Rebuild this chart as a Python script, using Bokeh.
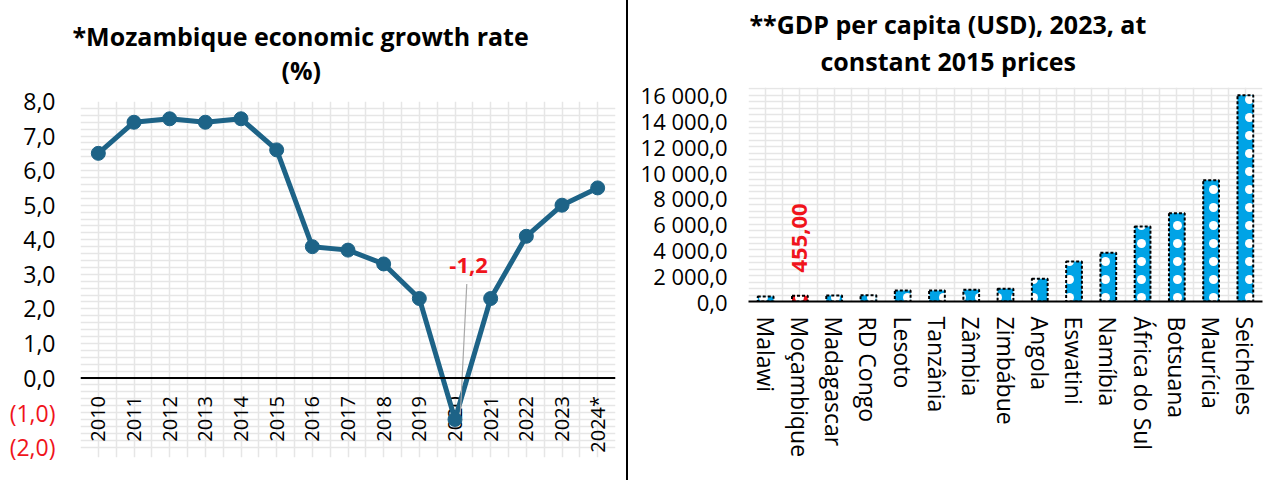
import numpy as np
from math import pi
from bokeh.plotting import figure
from bokeh.models import (FactorRange, Range1d, FixedTicker, Title, Spacer, ColumnDataSource,
                          LinearAxis, Span)
from bokeh.layouts import row
from bokeh.embed import file_html
from bokeh.resources import INLINE
from bokeh.core.properties import value

# ---------------- data ----------------
years = ["2010", "2011", "2012", "2013", "2014", "2015", "2016", "2017",
         "2018", "2019", "2020", "2021", "2022", "2023", "2024*"]
growth = [6.5, 7.4, 7.5, 7.4, 7.5, 6.6, 3.8, 3.7, 3.3, 2.3, -1.2, 2.3, 4.1, 5.0, 5.5]
growth_ticks = [0, 1, 2, 3, 4, 5, 6, 7, 8]
growth_neg_ticks = [-1, -2]
growth_highlight = "2020"

countries = ["Malawi", "Moçambique", "Madagascar", "RD Congo", "Lesoto", "Tanzânia",
             "Zâmbia", "Zimbábue", "Angola", "Eswatini", "Namíbia", "África do Sul",
             "Botsuana", "Maurícia", "Seicheles"]
gdp = [390, 455, 470, 490, 850, 860, 910, 985, 1760, 3100, 3780, 5820, 6850, 9400, 16000]
gdp_ticks = [0, 2000, 4000, 6000, 8000, 10000, 12000, 14000, 16000]
gdp_highlight = "Moçambique"

FONT = "Open Sans"
GRID = "#e6e6e6"
LINE_COL = "#1d6387"
RED = "#f0141c"
BAR_COL = "#00a3e6"


def pt(v, d=1):
    return f"{v:,.{d}f}".replace(",", " ").replace(".", ",")


def title(text, offset, standoff):
    return Title(text=text, align="left", offset=offset, text_font=FONT, text_color="black",
                 text_font_size="25px", text_font_style="bold", standoff=standoff)


def plain_axis(ax, size, standoff, color="black"):
    ax.axis_line_color = None
    ax.major_tick_line_color = None
    ax.minor_tick_line_color = None
    ax.major_tick_out = 0
    ax.major_tick_in = 0
    ax.minor_tick_out = 0
    ax.major_label_standoff = standoff
    ax.major_label_text_font = FONT
    ax.major_label_text_font_size = size
    ax.major_label_text_color = color


# ---------------- left chart ----------------
p1 = figure(width=626, height=480, x_range=FactorRange(*years), y_range=Range1d(-2.3, 8),
            output_backend="svg", toolbar_location=None, title=None,
            min_border_left=80, min_border_right=11, min_border_top=101, min_border_bottom=23)
p1.outline_line_color = None
p1.frame_align = False

p1.add_layout(title("(%)", 201, 29), "above")
p1.add_layout(title("*Mozambique economic growth rate", -8, -33), "above")

p1.xgrid.ticker = FixedTicker(ticks=[i * 0.5 for i in range(2 * len(years) + 1)])
p1.ygrid.ticker = FixedTicker(ticks=[round(-2 + i * 0.2, 2) for i in range(51)])
for g in (p1.xgrid, p1.ygrid):
    g.grid_line_color = GRID
    g.grid_line_width = 1.5

p1.yaxis.ticker = FixedTicker(ticks=growth_ticks)
p1.yaxis.major_label_overrides = {t: pt(t) for t in growth_ticks}
plain_axis(p1.yaxis[0], "23px", 25)

neg_axis = LinearAxis(ticker=FixedTicker(ticks=growth_neg_ticks),
                      major_label_overrides={t: f"({pt(abs(t))})" for t in growth_neg_ticks})
plain_axis(neg_axis, "23px", -35, RED)
p1.add_layout(neg_axis, "left")

p1.xaxis.visible = False
p1.add_layout(Span(location=0, dimension="width", line_color="black", line_width=2))

src1 = ColumnDataSource(dict(year=years, g=growth))
p1.text(x="year", y=-0.52, text="year", source=src1, angle=pi / 2,
        text_font=value(FONT), text_font_size="20px", text_color="black",
        text_align="right", text_baseline="middle")
p1.line(x="year", y="g", source=src1, line_color=LINE_COL, line_width=5)
p1.scatter(x="year", y="g", source=src1, size=14, fill_color=LINE_COL, line_color=LINE_COL)

hi = years.index(growth_highlight)
p1.segment(x0=[hi + 0.83], y0=[2.72], x1=[hi + 0.65], y1=[growth[hi] + 0.15],
           line_color="#a8a8a8", line_width=1.2)
p1.text(x=[hi + 0.88], y=[3.25], text=[pt(growth[hi])], text_color=RED,
        text_font=value(FONT), text_font_size="22px", text_font_style="bold",
        text_align="center", text_baseline="middle")

# ---------------- separator ----------------
sep = Spacer(width=2, height=480, styles={"background-color": "black"})

# ---------------- right chart ----------------
p2 = figure(width=638, height=480, x_range=FactorRange(*countries), y_range=Range1d(0, 16600),
            output_backend="svg", toolbar_location=None, title=None,
            min_border_left=120, min_border_right=4, min_border_top=87, min_border_bottom=179)
p2.outline_line_color = None
p2.frame_align = False

p2.add_layout(title("constant 2015 prices", 72, 19), "above")
p2.add_layout(title("**GDP per capita (USD), 2023, at", 1, -17), "above")

p2.xgrid.ticker = FixedTicker(ticks=[i * 0.5 for i in range(2 * len(countries) + 1)])
p2.ygrid.ticker = FixedTicker(ticks=[i * 500 for i in range(34)])
for g in (p2.xgrid, p2.ygrid):
    g.grid_line_color = GRID
    g.grid_line_width = 1.5

p2.yaxis.ticker = FixedTicker(ticks=gdp_ticks)
p2.yaxis.major_label_overrides = {t: pt(t) for t in gdp_ticks}
plain_axis(p2.yaxis[0], "22px", 21)

plain_axis(p2.xaxis[0], "23px", 15)
p2.xaxis.axis_line_color = "black"
p2.xaxis.axis_line_width = 2
p2.xaxis.major_label_orientation = "vertical"

colors = [RED if c == gdp_highlight else BAR_COL for c in countries]
src2 = ColumnDataSource(dict(country=countries, gdp=gdp, color=colors))
p2.vbar(x="country", top="gdp", width=0.46, source=src2, fill_color="color",
        line_color="black", line_width=2, line_dash="3 2",
        hatch_pattern="dot", hatch_color="white", hatch_scale=18, hatch_weight=1.2)

mi = countries.index(gdp_highlight)
p2.text(x=[mi + 0.5], y=[2250], text=[pt(gdp[mi], 2)], angle=pi / 2, text_color=RED,
        text_font=value(FONT), text_font_size="22px", text_font_style="bold",
        text_align="left", text_baseline="middle")

layout = row(p1, sep, p2)
open("out.html", "w").write(file_html(layout, INLINE))
